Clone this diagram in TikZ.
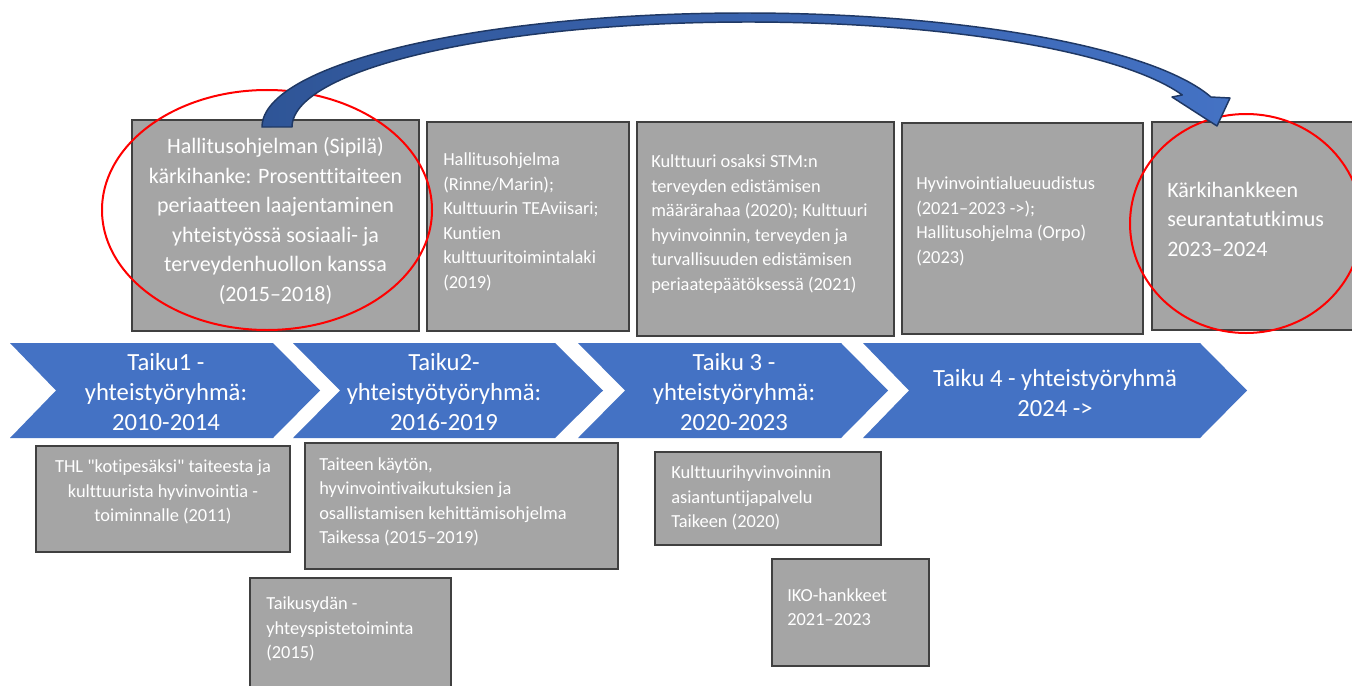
\documentclass[tikz,border=0pt]{standalone}
\usepackage{fontspec}
\setmainfont{Carlito}[Ligatures={TeXOff,NoCommon}]
\definecolor{boxgray}{HTML}{A5A5A5}
\definecolor{boxline}{HTML}{404040}
\definecolor{chev}{HTML}{4472C4}
\definecolor{arrdark}{HTML}{2F5597}
\definecolor{arrlight}{HTML}{4472C4}
\definecolor{arrline}{HTML}{1F3864}
\definecolor{ring}{HTML}{FF0000}
\tikzset{
  gbox/.style={draw=boxline, fill=boxgray, line width=1.5pt},
  chevron/.style={fill=chev, draw=none},
  smalltxt/.style={text=white, inner sep=0pt, align=left, font=\fontsize{13.8}{18.4}\selectfont},
  bigtxt/.style={text=white, inner sep=0pt, align=left, font=\fontsize{16.5}{22.1}\selectfont},
  chevtxt/.style={text=white, inner sep=0pt, align=center, font=\fontsize{18.5}{22.4}\selectfont},
  redring/.style={draw=ring, line width=1.5pt},
}
\begin{document}
\begin{tikzpicture}[x=0.75pt,y=-0.75pt]
\useasboundingbox (0,0) rectangle (1352,685);
\fill[white] (0,0) rectangle (1352,685);

% top row boxes
\draw[gbox] (132,120) rectangle (419,331);
\draw[gbox] (427,122) rectangle (629,331);
\draw[gbox] (637,122) rectangle (894,336);
\draw[gbox] (902,123) rectangle (1143,334);
\draw[gbox] (1152,122) rectangle (1356,330);

\node[bigtxt, align=center] (t1) at (275.5,221) {Hallitusohjelman (Sipilä)\\kärkihanke: Prosenttitaiteen\\periaatteen laajentaminen\\yhteistyössä sosiaali- ja\\terveydenhuollon kanssa\\(2015–2018)};
\node[smalltxt, anchor=west] (t2) at (443,222) {Hallitusohjelma\\(Rinne/Marin);\\Kulttuurin TEAviisari;\\Kuntien\\kulttuuritoimintalaki\\(2019)};
\node[smalltxt, anchor=west] (t3) at (651,224) {Kulttuuri osaksi STM:n\\terveyden edistämisen\\määrärahaa (2020); Kulttuuri\\hyvinvoinnin, terveyden ja\\turvallisuuden edistämisen\\periaatepäätöksessä (2021)};
\node[smalltxt, anchor=west] (t4) at (916,221.5) {Hyvinvointialueuudistus\\(2021–2023 ->);\\Hallitusohjelma (Orpo)\\(2023)};
\node[bigtxt, anchor=west] (t5) at (1167,219) {Kärkihankkeen\\seurantatutkimus\\2023–2024};

% chevrons
\fill[chevron] (10,343) -- (273,343) -- (320,390.5) -- (273,438) -- (10,438) -- (56,390.5) -- cycle;
\fill[chevron] (293,343) -- (555,343) -- (603,390.5) -- (555,438) -- (293,438) -- (340,390.5) -- cycle;
\fill[chevron] (578,343) -- (841,343) -- (888,390.5) -- (841,438) -- (578,438) -- (625,390.5) -- cycle;
\fill[chevron] (863,343) -- (1200,343) -- (1247,390.5) -- (1200,438) -- (863,438) -- (909,390.5) -- cycle;

\node[chevtxt] (c1) at (166,392) {Taiku1 -\\yhteistyöryhmä:\\2010-2014};
\node[chevtxt] (c2) at (444,392) {Taiku2-\\yhteistyötyöryhmä:\\2016-2019};
\node[chevtxt] (c3) at (734,392) {Taiku 3 -\\yhteistyöryhmä:\\2020-2023};
\node[chevtxt] (c4) at (1055,393) {Taiku 4 - yhteistyöryhmä\\2024 ->};

% bottom boxes
\draw[gbox] (36,446) rectangle (290,552);
\draw[gbox] (305,443) rectangle (618,569);
\draw[gbox] (250,578) rectangle (451,690);
\draw[gbox] (655,452) rectangle (881,545);
\draw[gbox] (772,559) rectangle (929,666);

\node[smalltxt, align=center] (l1) at (163,492) {THL "kotipesäksi" taiteesta ja\\kulttuurista hyvinvointia -\\toiminnalle (2011)};
\node[smalltxt, anchor=west] (l2) at (319,502) {Taiteen käytön,\\hyvinvointivaikutuksien ja\\osallistamisen kehittämisohjelma\\Taikessa (2015–2019)};
\node[smalltxt, anchor=west] (l3) at (266,629) {Taikusydän -\\yhteyspistetoiminta\\(2015)};
\node[smalltxt, anchor=west] (l4) at (671,498) {Kulttuurihyvinvoinnin\\asiantuntijapalvelu\\Taikeen (2020)};
\node[smalltxt, anchor=west] (l5) at (787,607) {IKO-hankkeet\\2021–2023};

% red rings
\draw[redring] (267,210) ellipse [x radius=165, y radius=120];
\draw[redring] (1246,223.5) ellipse [x radius=116, y radius=109.5];

% curved arrow from box 1 to box 5
\draw[arrline, line width=1.1pt, line join=round, left color=arrdark, right color=arrlight]
  plot[domain=180:344.74, samples=80, smooth] ({745+483*cos(\x)},{127+114*sin(\x)})
  -- (1230,98) -- (1217,126) -- (1172,97) -- (1182,95)
  -- plot[domain=342.26:180, samples=80, smooth] ({748+456*cos(\x)},{127+105*sin(\x)})
  -- cycle;
\end{tikzpicture}
\end{document}
